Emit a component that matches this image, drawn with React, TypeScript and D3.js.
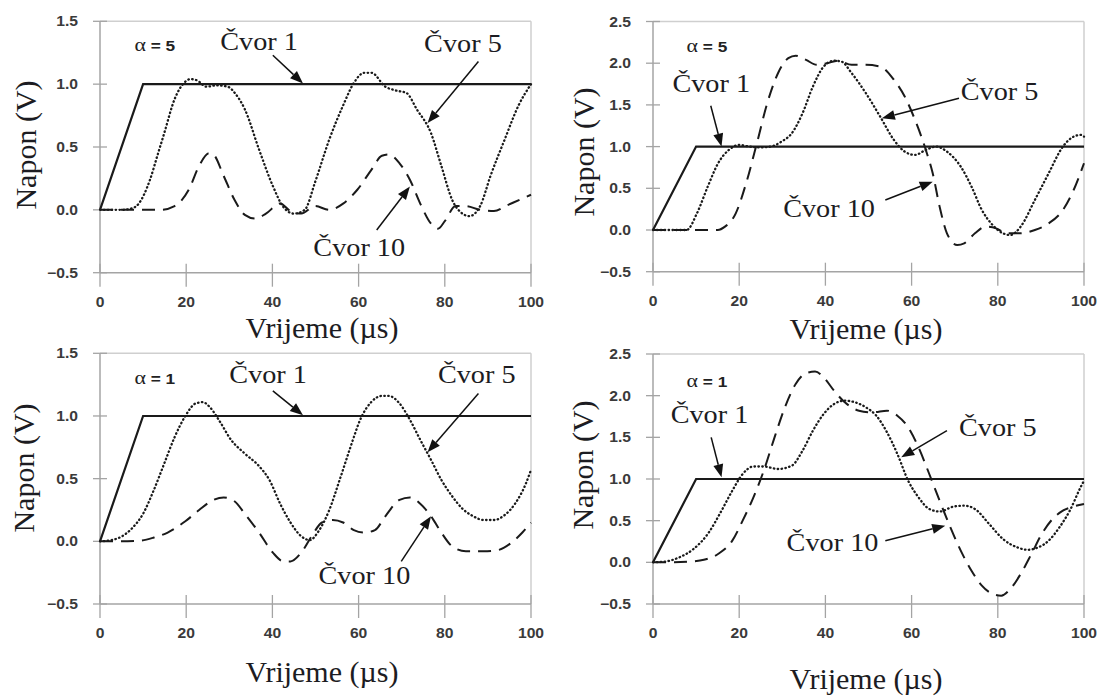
import React, { useEffect, useRef } from 'react';
import * as d3 from 'd3';

type Pt = [number, number];

// ---------- DATA ----------
const xTicks = [0, 20, 40, 60, 80, 100];
const yTicksLeft = [-0.5, 0, 0.5, 1.0, 1.5];
const yTicksRight = [-0.5, 0, 0.5, 1.0, 1.5, 2.0, 2.5];

const node1: Pt[] = [[0, 0], [10, 1], [100, 1]];

const a5LeftNode5: Pt[] = [[0,0],[5,0],[7.2,0.01],[9,0.05],[11.6,0.24],[13.3,0.43],[14.9,0.61],[17.3,0.88],[19.8,1.02],[21,1.04],[22.5,1.03],[24.7,0.98],[27,0.99],[29.6,0.98],[31.5,0.92],[33.6,0.8],[36.9,0.48],[40.1,0.19],[42.6,0.02],[45,-0.03],[47.5,0.0],[49.9,0.22],[53.2,0.56],[56.4,0.83],[58.9,1.01],[61.3,1.09],[63,1.09],[66.2,0.98],[68.6,0.95],[71.1,0.93],[73.5,0.8],[76.8,0.61],[79.2,0.35],[81.7,0.08],[84.1,-0.03],[85.7,-0.05],[88.2,0.03],[90.6,0.27],[93.9,0.56],[97.1,0.83],[100,1.0]];
const a5LeftNode10: Pt[] = [[0,0],[14,0],[17.3,0.03],[20.6,0.16],[23,0.35],[25.3,0.45],[26.3,0.44],[28.7,0.27],[31.2,0.08],[33.6,-0.04],[36.1,-0.07],[38.5,-0.03],[41.8,0.05],[44.2,-0.01],[46.7,-0.03],[49.9,0.03],[53.2,0.0],[56.4,0.05],[59.7,0.16],[63,0.32],[65.4,0.43],[67,0.44],[69.5,0.37],[71.9,0.24],[74.3,0.05],[76.8,-0.11],[78.4,-0.15],[80,-0.09],[82.5,0.03],[84.9,0.03],[88.2,0.0],[91.4,-0.01],[94.7,0.04],[98,0.09],[100,0.12]];

const a5RightNode5: Pt[] = [[0,0],[7.8,0],[10.2,0.2],[12.7,0.52],[15.1,0.8],[17.6,0.96],[20,1.02],[22.4,1.0],[24.9,0.99],[27.3,1.0],[29.8,1.06],[32.2,1.16],[34.7,1.4],[37.1,1.72],[39.6,1.96],[42,2.03],[43.7,2.02],[46.1,1.88],[49.4,1.64],[52.7,1.36],[55.9,1.08],[58.4,0.94],[60.8,0.9],[63.3,0.96],[65.7,1.0],[68.2,0.94],[71.4,0.76],[73.9,0.52],[76.3,0.24],[78.8,0.06],[81.2,-0.04],[82.9,-0.06],[85.3,0.04],[88.6,0.36],[91.8,0.68],[95.1,1.0],[97.6,1.12],[99.2,1.14],[100,1.12]];
const a5RightNode10: Pt[] = [[0,0],[15,0],[16.7,0.04],[19.2,0.2],[21.6,0.56],[24.1,1.04],[26.5,1.52],[29,1.88],[31.4,2.06],[33.1,2.09],[35.5,2.04],[38,1.98],[40.4,2.0],[42.9,2.03],[46.1,1.98],[49.4,1.98],[52.7,1.96],[55.9,1.8],[58.4,1.6],[60.8,1.32],[63.3,0.96],[64.9,0.68],[66.5,0.28],[68.2,-0.04],[70.6,-0.18],[72.2,-0.16],[74.7,-0.04],[77.1,0.04],[79.6,0.02],[82,-0.04],[85.3,-0.04],[88.6,0.0],[91.8,0.08],[95.1,0.24],[97.6,0.48],[100,0.8]];

const a1LeftNode5: Pt[] = [[0,0],[2.7,0.01],[5.1,0.04],[7.6,0.11],[10,0.22],[12.5,0.41],[14.9,0.62],[17.3,0.83],[19.8,1.0],[22.2,1.1],[23.9,1.11],[25.5,1.07],[27.9,0.95],[30.4,0.81],[33.6,0.7],[36.9,0.6],[39.3,0.49],[41.8,0.3],[44.2,0.15],[46.7,0.04],[48.7,0.01],[50.7,0.08],[53.2,0.25],[55.6,0.49],[58.1,0.75],[60.5,0.98],[62.9,1.11],[65.4,1.16],[67,1.16],[69.5,1.1],[71.9,0.97],[74.3,0.81],[76.8,0.65],[79.2,0.49],[81.7,0.36],[84.1,0.26],[86.6,0.2],[89,0.17],[91.4,0.17],[93.9,0.21],[96.3,0.3],[98.8,0.46],[100,0.57]];
const a1LeftNode10: Pt[] = [[0,0],[3.5,0],[9.2,0.005],[12.5,0.03],[15.7,0.07],[19.8,0.16],[23,0.25],[26.3,0.33],[28.7,0.35],[31.2,0.32],[33.6,0.22],[36.9,0.07],[40.1,-0.09],[42.6,-0.16],[44.2,-0.16],[46.7,-0.09],[49.1,0.04],[51.5,0.15],[54,0.17],[56.4,0.15],[58.9,0.09],[61.3,0.07],[63.8,0.09],[66.2,0.2],[69.5,0.33],[71.9,0.35],[74.3,0.3],[76.8,0.2],[79.2,0.07],[81.7,-0.04],[84.9,-0.08],[89,-0.08],[92.3,-0.07],[95.5,-0.01],[98,0.07],[100,0.15]];

const a1RightNode5: Pt[] = [[0,0],[2.9,0.01],[6.1,0.06],[9.4,0.16],[12.7,0.34],[15.9,0.62],[18.4,0.86],[20.8,1.06],[23.3,1.15],[25.7,1.15],[29,1.12],[32.2,1.16],[34.7,1.34],[37.1,1.58],[39.6,1.78],[42,1.9],[44.5,1.94],[46.9,1.92],[49.4,1.86],[51.8,1.76],[54.3,1.56],[56.7,1.3],[59.2,0.98],[61.6,0.78],[64.1,0.64],[66.5,0.61],[69.8,0.67],[72.2,0.68],[74.7,0.64],[78,0.46],[81.2,0.28],[84.5,0.18],[86.9,0.15],[89.4,0.18],[91.8,0.26],[94.3,0.42],[96.7,0.62],[99.2,0.9],[100,0.98]];
const a1RightNode10: Pt[] = [[0,0],[3.7,0],[8.6,0.01],[11.8,0.03],[15.1,0.1],[18.4,0.26],[20.8,0.5],[23.3,0.78],[25.7,1.1],[28.2,1.5],[30.6,1.86],[33.1,2.14],[35.5,2.27],[37.6,2.29],[39.6,2.22],[42,2.06],[44.5,1.92],[47.8,1.82],[51,1.8],[54.3,1.82],[56.7,1.76],[59.2,1.62],[61.6,1.38],[64.1,1.06],[66.5,0.74],[69,0.42],[71.4,0.14],[73.9,-0.1],[76.3,-0.28],[78.8,-0.38],[80.8,-0.4],[82.9,-0.32],[85.3,-0.14],[87.8,0.1],[90.2,0.34],[92.7,0.52],[95.1,0.62],[97.6,0.67],[100,0.7]];

// annotation anchors in data units [t, v]
type Anno = { alpha: Pt; c1: Pt; c5: Pt; c10: Pt; a1: [Pt, Pt]; a5: [Pt, Pt]; a10: [Pt, Pt] };

const annoA5Left: Anno = { alpha: [8, 1.26], c1: [27.9, 1.275], c5: [75.2, 1.257], c10: [49.5, -0.37], a1: [[40.1, 1.23], [47.1, 1.005]], a5: [[87.8, 1.18], [76, 0.69]], a10: [[64.2, -0.16], [71.9, 0.185]] };
const annoA5Right: Anno = { alpha: [7.8, 2.14], c1: [4.5, 1.66], c5: [71.4, 1.56], c10: [30.2, 0.16], a1: [[13.4, 1.49], [15.9, 1.0]], a5: [[71, 1.58], [53.1, 1.34]], a10: [[53.9, 0.36], [64.9, 0.58]] };
const annoA1Left: Anno = { alpha: [8, 1.257], c1: [30, 1.26], c5: [78.4, 1.26], c10: [50.7, -0.344], a1: [[40.1, 1.2], [47.1, 1.005]], a5: [[87.8, 1.18], [76, 0.71]], a10: [[69.9, -0.16], [76.8, 0.2]] };
const annoA1Right: Anno = { alpha: [7.8, 2.11], c1: [4.1, 1.67], c5: [71, 1.52], c10: [31, 0.14], a1: [[13.5, 1.5], [15.9, 1.02]], a5: [[68.2, 1.58], [57.6, 1.26]], a10: [[53.9, 0.26], [67.8, 0.44]] };

// ---------- LAYOUT ----------
type Panel = {
  left: number; right: number; top: number; bottom: number;
  yMin: number; yMax: number; yTicks: number[]; alpha: string;
  n5: Pt[]; n10: Pt[]; anno: Anno;
  xTitle: Pt; yTitle: Pt;
};

const panels: Panel[] = [
  { left: 100, right: 531, top: 21.3, bottom: 272.7, yMin: -0.5, yMax: 1.5, yTicks: yTicksLeft, alpha: '5', n5: a5LeftNode5, n10: a5LeftNode10, anno: annoA5Left, xTitle: [322, 338], yTitle: [26, 145] },
  { left: 653, right: 1084, top: 21.5, bottom: 271.7, yMin: -0.5, yMax: 2.5, yTicks: yTicksRight, alpha: '5', n5: a5RightNode5, n10: a5RightNode10, anno: annoA5Right, xTitle: [866, 339], yTitle: [584, 152] },
  { left: 100, right: 531, top: 353.3, bottom: 604, yMin: -0.5, yMax: 1.5, yTicks: yTicksLeft, alpha: '1', n5: a1LeftNode5, n10: a1LeftNode10, anno: annoA1Left, xTitle: [322, 682], yTitle: [24, 468] },
  { left: 653, right: 1084, top: 354, bottom: 604, yMin: -0.5, yMax: 2.5, yTicks: yTicksRight, alpha: '1', n5: a1RightNode5, n10: a1RightNode10, anno: annoA1Right, xTitle: [866, 689], yTitle: [583, 465] },
];

const TEXT = '#1c1c22';
const SERIF = 'Liberation Serif';
const SANS = 'Liberation Sans';

function drawPanel(root: d3.Selection<SVGSVGElement, unknown, null, undefined>, p: Panel) {
  const x = d3.scaleLinear().domain([0, 100]).range([p.left, p.right]);
  const y = d3.scaleLinear().domain([p.yMin, p.yMax]).range([p.bottom, p.top]);
  const straight = d3.line<Pt>().x(d => x(d[0])).y(d => y(d[1]));
  const smooth = d3.line<Pt>().x(d => x(d[0])).y(d => y(d[1])).curve(d3.curveMonotoneX);
  const fmt = d3.format('.1f');
  const axisColor = '#a4a4a4';
  const frameColor = '#cfcfcf';
  const g = root.append('g');

  const ln = (x1: number, y1: number, x2: number, y2: number, c: string, w: number) =>
    g.append('line').attr('x1', x1).attr('y1', y1).attr('x2', x2).attr('y2', y2).attr('stroke', c).attr('stroke-width', w);

  ln(p.left, p.top, p.right, p.top, frameColor, 1.5);
  ln(p.right, p.top, p.right, p.bottom, frameColor, 1.5);
  ln(p.left, p.top, p.left, p.bottom, axisColor, 1.5);
  ln(p.left, p.bottom, p.right, p.bottom, axisColor, 1.5);

  p.yTicks.forEach(t => {
    ln(p.left - 7, y(t), p.left + 7, y(t), axisColor, 1.3);
    g.append('text')
      .attr('transform', `translate(${p.left - 22},${y(t) + 5}) scale(1.12,1)`)
      .attr('text-anchor', 'end')
      .attr('font-family', SANS).attr('font-weight', 'bold').attr('font-size', 14)
      .attr('fill', '#3a3a3a').text(fmt(t));
  });
  xTicks.forEach(t => {
    ln(x(t), p.bottom - 9, x(t), p.bottom + 14, axisColor, 1.3);
    g.append('text')
      .attr('transform', `translate(${x(t)},${p.bottom + 34}) scale(1.12,1)`)
      .attr('text-anchor', 'middle')
      .attr('font-family', SANS).attr('font-weight', 'bold').attr('font-size', 14)
      .attr('fill', '#3a3a3a').text(String(t));
  });

  g.append('path').attr('d', smooth(p.n10) || '').attr('fill', 'none').attr('stroke', '#1a1a1a')
    .attr('stroke-width', 2).attr('stroke-dasharray', '13 8');
  g.append('path').attr('d', smooth(p.n5) || '').attr('fill', 'none').attr('stroke', '#1a1a1a')
    .attr('stroke-width', 2.3).attr('stroke-dasharray', '0.5 3.4').attr('stroke-linecap', 'round');
  g.append('path').attr('d', straight(node1) || '').attr('fill', 'none').attr('stroke', '#1a1a1a').attr('stroke-width', 2.2);

  const a = p.anno;
  const at = g.append('text')
    .attr('transform', `translate(${x(a.alpha[0])},${y(a.alpha[1])}) scale(1.15,1)`).attr('fill', '#222');
  at.append('tspan').attr('font-family', SERIF).attr('font-size', 19).text('α');
  at.append('tspan').attr('font-family', SANS).attr('font-weight', 'bold').attr('font-size', 15).text(' = ' + p.alpha);

  const label = (pt: Pt, txt: string) =>
    g.append('text')
      .attr('transform', `translate(${x(pt[0])},${y(pt[1])}) scale(1.13,1)`)
      .attr('font-family', SERIF).attr('font-size', 25).attr('fill', TEXT).text(txt);
  label(a.c1, 'Čvor 1');
  label(a.c5, 'Čvor 5');
  label(a.c10, 'Čvor 10');

  const arrow = (from: Pt, to: Pt) => {
    const fx = x(from[0]), fy = y(from[1]), tx = x(to[0]), ty = y(to[1]);
    const len = Math.hypot(tx - fx, ty - fy);
    const ux = (tx - fx) / len, uy = (ty - fy) / len;
    const hl = 13, hw = 5;
    const bx = tx - ux * hl, by = ty - uy * hl;
    const px = -uy, py = ux;
    g.append('line').attr('x1', fx).attr('y1', fy).attr('x2', bx).attr('y2', by).attr('stroke', '#111').attr('stroke-width', 1.5);
    g.append('polygon').attr('points', `${tx},${ty} ${bx + px * hw},${by + py * hw} ${bx - px * hw},${by - py * hw}`).attr('fill', '#111');
  };
  arrow(a.a1[0], a.a1[1]);
  arrow(a.a5[0], a.a5[1]);
  arrow(a.a10[0], a.a10[1]);

  g.append('text').attr('x', p.xTitle[0]).attr('y', p.xTitle[1]).attr('text-anchor', 'middle')
    .attr('font-family', SERIF).attr('font-size', 30).attr('fill', TEXT).text('Vrijeme (µs)');
  g.append('text').attr('transform', `translate(${p.yTitle[0] + 10},${p.yTitle[1]}) rotate(-90)`).attr('text-anchor', 'middle')
    .attr('font-family', SERIF).attr('font-size', 30).attr('fill', TEXT).text('Napon (V)');
}

export default function App() {
  const ref = useRef<SVGSVGElement>(null);
  useEffect(() => {
    if (!ref.current) return;
    const svg = d3.select(ref.current);
    svg.selectAll('*').remove();
    svg.append('rect').attr('x', 0).attr('y', 0).attr('width', 1101).attr('height', 697).attr('fill', '#fff');
    panels.forEach(p => drawPanel(svg, p));
  }, []);
  return (
    <svg ref={ref} width={1101} height={697} viewBox="0 0 1101 697" style={{ position: 'absolute', left: 0, top: 0, background: '#fff' }} />
  );
}
